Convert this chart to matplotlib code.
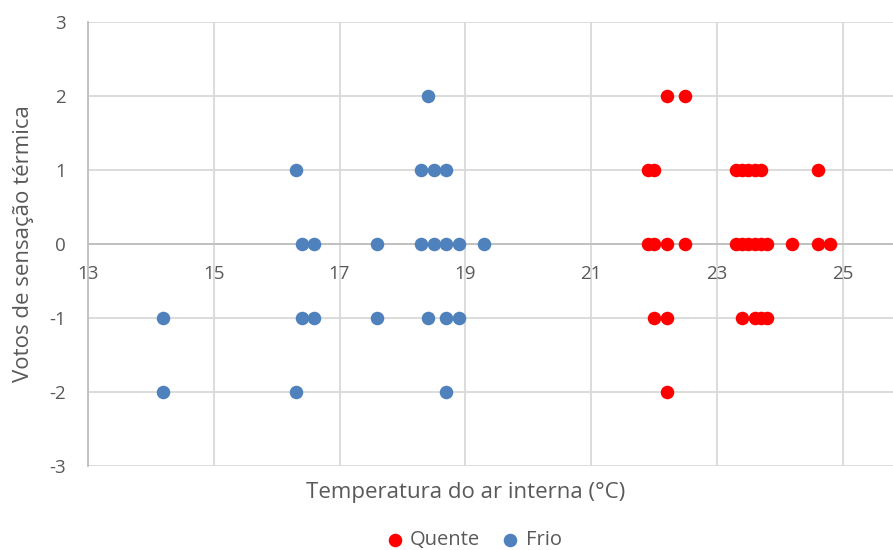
""" Votos de sensacao termica x temperatura do ar interna """

import matplotlib
matplotlib.use('Agg')
import matplotlib.pyplot as plt

plt.rcParams['font.family'] = ['Open Sans', 'DejaVu Sans']
plt.rcParams['axes.unicode_minus'] = False

#!Dados - Quente
quente_temp = [22.2, 22.5,
               21.9, 22.0, 23.3, 23.4, 23.5, 23.6, 23.7, 24.6,
               21.9, 22.0, 22.2, 22.5, 23.3, 23.4, 23.5, 23.6, 23.7, 23.8, 24.2, 24.6, 24.8,
               22.0, 22.2, 23.4, 23.6, 23.7, 23.8,
               22.2]
quente_voto = [2, 2,
               1, 1, 1, 1, 1, 1, 1, 1,
               0, 0, 0, 0, 0, 0, 0, 0, 0, 0, 0, 0, 0,
               -1, -1, -1, -1, -1, -1,
               -2]

#!Dados - Frio
frio_temp = [18.4,
             16.3, 18.3, 18.5, 18.7,
             16.4, 16.6, 17.6, 18.3, 18.5, 18.7, 18.9, 19.3,
             14.2, 16.4, 16.6, 17.6, 18.4, 18.7, 18.9,
             14.2, 16.3, 18.7]
frio_voto = [2,
             1, 1, 1, 1,
             0, 0, 0, 0, 0, 0, 0, 0,
             -1, -1, -1, -1, -1, -1, -1,
             -2, -2, -2]

#!Marcas dos eixos
x_ticks = [13, 15, 17, 19, 21, 23, 25]
y_ticks = [-3, -2, -1, 0, 1, 2, 3]

texto = '#595959'
grade = '#D9D9D9'

fig = plt.figure(figsize=(8.93, 5.5), dpi=100)
ax = fig.add_axes([0.0985, 0.1527, 0.9015, 0.8073])

ax.scatter(quente_temp, quente_voto, s=95, color='#FF0000', label='Quente', zorder=3, linewidths=0)
ax.scatter(frio_temp, frio_voto, s=95, color='#4F81BD', label='Frio', zorder=3, linewidths=0)

ax.set_xlim(13, 25.8)
ax.set_ylim(-3, 3)
ax.set_xticks(x_ticks)
ax.set_yticks(y_ticks)
ax.grid(True, color=grade, linewidth=1.3, zorder=0)
ax.set_axisbelow(True)

#!Eixo x cruza em y=0
ax.spines['bottom'].set_position(('data', 0))
ax.spines['bottom'].set_color('#BFBFBF')
ax.spines['bottom'].set_linewidth(1.3)
ax.spines['left'].set_color('#BFBFBF')
ax.spines['left'].set_linewidth(1.3)
ax.spines['top'].set_visible(False)
ax.spines['right'].set_visible(False)
ax.tick_params(length=0, labelsize=13.5, labelcolor=texto)
ax.tick_params(axis='x', pad=15)
ax.tick_params(axis='y', pad=16)

fig.text(0.521, 0.105, 'Temperatura do ar interna (°C)', ha='center', va='center',
         fontsize=16, color=texto)
fig.text(0.026, 0.558, 'Votos de sensação térmica', ha='center', va='center',
         rotation=90, fontsize=16, color=texto)

leg = fig.legend(loc='center', bbox_to_anchor=(0.53, 0.018), ncol=2, frameon=False,
                 fontsize=14.5, handlelength=1.0, handletextpad=0.25, columnspacing=1.0,
                 markerscale=1.0, scatterpoints=1)
for t in leg.get_texts():
    t.set_color(texto)

fig.savefig('out.png', dpi=100)
